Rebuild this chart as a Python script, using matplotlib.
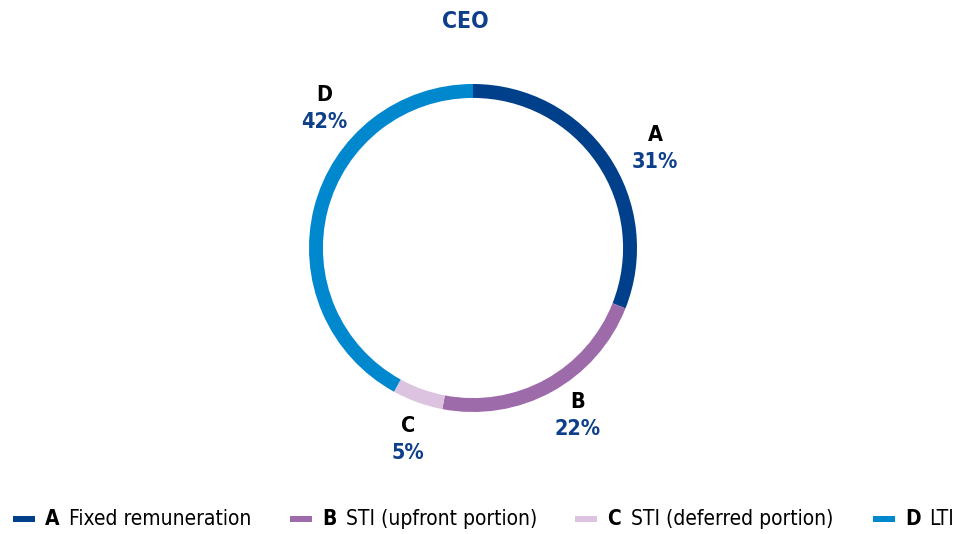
import matplotlib
matplotlib.use("Agg")
import matplotlib.pyplot as plt
from matplotlib.patches import Rectangle

plt.rcParams["font.family"] = ["DejaVu Sans"]
plt.rcParams["font.stretch"] = "condensed"

W, H = 957, 534

letters = ["A", "B", "C", "D"]
names_full = ["Fixed remuneration", "STI (upfront portion)", "STI (deferred portion)", "LTI"]
shares = [31, 22, 5, 42]
colors = ["#003F8A", "#9E6BAA", "#DCC3E0", "#0088CF"]
title = "CEO"

NAVY = "#0D3F8A"

fig = plt.figure(figsize=(W / 100, H / 100), dpi=100)

# ring: centre (473, 248) px, outer radius 164 px
cx, cy, r = 473, 248, 164
ax = fig.add_axes([(cx - r) / W, (H - cy - r) / H, 2 * r / W, 2 * r / H])
ax.pie(shares, colors=colors, startangle=90, counterclock=False, radius=1,
       wedgeprops=dict(width=0.085, linewidth=0))
ax.set_xlim(-1, 1)
ax.set_ylim(-1, 1)
ax.set_aspect("equal")
ax.axis("off")

fig.text(465 / W, 1 - 21 / H, title, ha="center", va="center", color=NAVY,
         fontsize=16.5, fontweight="bold")

# segment labels: letter above, percentage below
label_pos = [(655, 135), (578, 402), (408, 426), (324, 95)]
for (x, y), let, val in zip(label_pos, letters, shares):
    fig.text(x / W, 1 - y / H, let, ha="center", va="center", color="black",
             fontsize=15.5, fontweight="bold")
    fig.text(x / W, 1 - (y + 27) / H, f"{val}%", ha="center", va="center",
             color=NAVY, fontsize=15.5, fontweight="bold")

# legend row
leg_x = [13, 290, 575, 873]
leg_y = 519
for x0, let, name, c in zip(leg_x, letters, names_full, colors):
    fig.add_artist(Rectangle((x0 / W, 1 - (leg_y + 3) / H), 22 / W, 6 / H,
                             transform=fig.transFigure, color=c, lw=0))
    fig.text((x0 + 32) / W, 1 - leg_y / H, let, ha="left", va="center",
             fontsize=15, fontweight="bold", color="black")
    fig.text((x0 + 56) / W, 1 - leg_y / H, name, ha="left", va="center",
             fontsize=15, color="black")

fig.savefig("out.png", dpi=100)
